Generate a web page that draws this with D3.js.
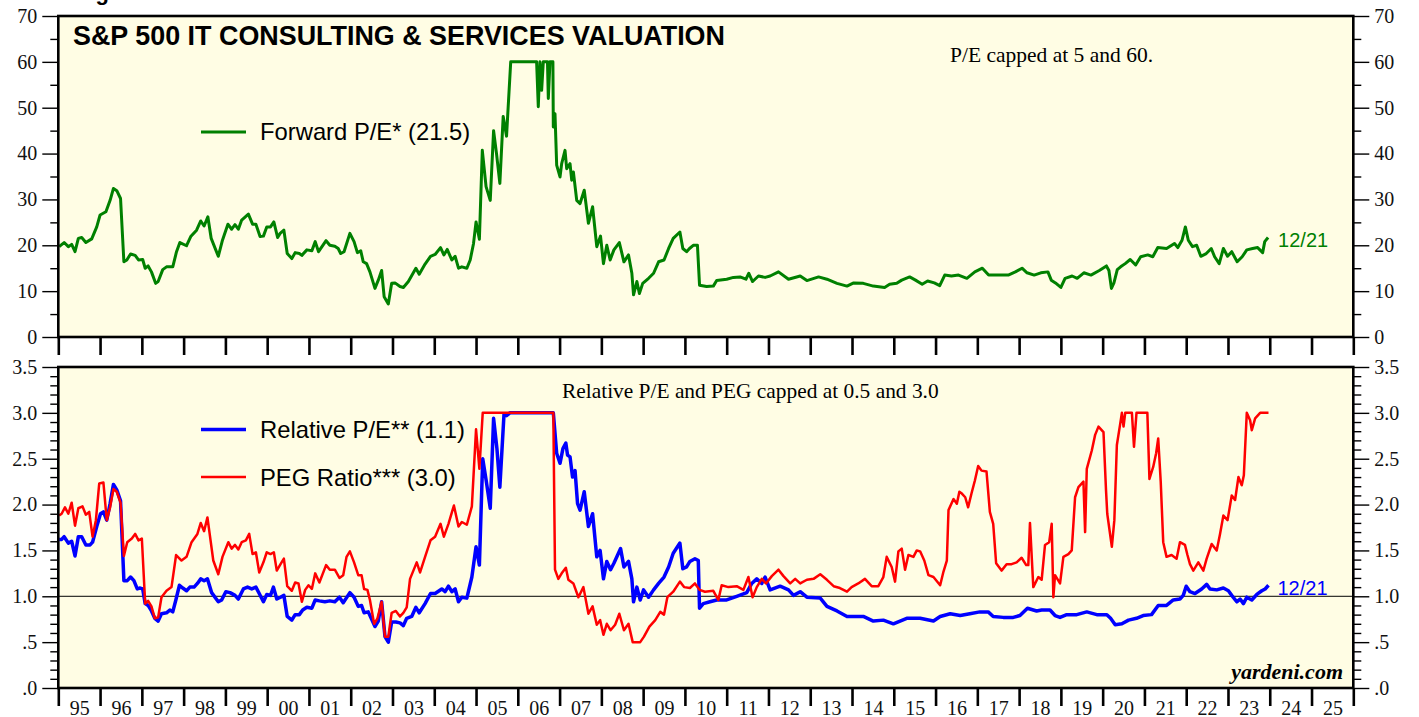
<!DOCTYPE html>
<html>
<head>
<meta charset="utf-8">
<script src="https://cdn.jsdelivr.net/npm/d3@7"></script>
<style>
  body { margin: 0; background: #fff; }
  svg { display: block; }
</style>
</head>
<body>
<svg id="chart"></svg>
<script>
// year ticks on the x axis (labels are the two last digits)
const years = d3.range(1995, 2026);

// Forward P/E  [decimal year, value]
const forwardPE = [
  [1995.02,19.7],[1995.14,20.6],[1995.24,19.7],[1995.32,20.2],[1995.40,18.6],[1995.48,21.5],[1995.56,21.7],
  [1995.66,20.6],[1995.80,21.4],[1995.92,24.0],[1996.00,26.6],[1996.14,27.3],[1996.24,29.8],[1996.32,32.4],
  [1996.40,31.9],[1996.49,30.2],[1996.57,16.4],[1996.64,16.8],[1996.73,18.1],[1996.84,17.8],[1996.92,16.8],
  [1997.02,16.9],[1997.08,15.0],[1997.15,15.5],[1997.23,14.2],[1997.33,11.7],[1997.39,12.1],[1997.50,14.7],
  [1997.59,15.3],[1997.74,15.3],[1997.83,18.6],[1997.91,20.6],[1998.07,19.9],[1998.17,21.9],[1998.31,23.3],
  [1998.41,25.3],[1998.49,24.2],[1998.58,26.2],[1998.66,21.5],[1998.83,17.6],[1998.93,21.1],[1999.06,24.6],
  [1999.15,23.5],[1999.23,24.5],[1999.31,23.5],[1999.39,25.5],[1999.55,26.8],[1999.65,24.6],[1999.73,24.6],
  [1999.83,21.9],[1999.91,22.0],[1999.99,24.0],[2000.08,24.0],[2000.16,25.1],[2000.25,21.7],[2000.31,22.6],
  [2000.40,23.3],[2000.48,18.2],[2000.59,17.1],[2000.67,18.4],[2000.77,18.2],[2000.83,17.8],[2000.95,19.0],
  [2001.07,18.8],[2001.15,20.8],[2001.23,18.6],[2001.41,21.0],[2001.50,20.0],[2001.62,19.8],[2001.70,19.3],
  [2001.76,18.2],[2001.84,18.6],[2001.98,22.6],[2002.08,20.8],[2002.16,18.4],[2002.24,18.8],[2002.30,16.4],
  [2002.38,16.0],[2002.46,14.2],[2002.58,10.6],[2002.66,12.4],[2002.74,14.5],[2002.80,8.8],[2002.90,7.2],
  [2002.98,11.7],[2003.06,11.8],[2003.18,11.0],[2003.26,10.8],[2003.38,12.1],[2003.56,15.0],[2003.64,13.7],
  [2003.78,15.9],[2003.91,17.6],[2004.02,18.0],[2004.15,19.5],[2004.23,17.9],[2004.31,19.1],[2004.42,16.8],
  [2004.50,17.6],[2004.58,15.0],[2004.66,15.3],[2004.78,15.0],[2004.86,16.8],[2004.94,20.4],[2005.00,25.1],
  [2005.08,21.3],[2005.15,40.7],[2005.24,32.8],[2005.34,29.8],[2005.42,45.0],[2005.49,40.0],[2005.57,33.5],
  [2005.65,48.1],[2005.73,43.8],[2005.83,60],[2006.45,60],[2006.49,50.2],[2006.53,60],[2006.57,53.8],
  [2006.61,60],[2006.71,60],[2006.73,52.0],[2006.77,60],[2006.84,60],[2006.85,45.8],[2006.89,48.7],
  [2006.93,37.5],[2007.01,34.9],[2007.05,37.8],[2007.13,40.7],[2007.17,36.7],[2007.25,37.8],[2007.29,34.2],
  [2007.33,36.0],[2007.41,29.8],[2007.49,29.1],[2007.59,32.0],[2007.69,24.8],[2007.79,28.4],[2007.89,19.7],
  [2007.98,22.0],[2008.05,16.0],[2008.13,20.0],[2008.21,16.8],[2008.30,19.0],[2008.43,20.6],[2008.54,16.4],
  [2008.65,17.9],[2008.73,13.9],[2008.77,9.2],[2008.85,12.1],[2008.91,9.5],[2008.99,11.7],[2009.13,12.8],
  [2009.25,13.9],[2009.37,16.4],[2009.50,16.8],[2009.61,19.3],[2009.72,21.5],[2009.88,22.9],[2009.95,19.3],
  [2010.04,18.6],[2010.11,19.3],[2010.20,20.0],[2010.30,20.0],[2010.35,11.3],[2010.52,11.0],[2010.68,11.1],
  [2010.76,12.3],[2011.00,12.6],[2011.16,13.0],[2011.32,13.1],[2011.46,12.6],[2011.53,13.9],[2011.62,12.1],
  [2011.76,13.3],[2011.92,13.0],[2012.04,13.3],[2012.24,14.2],[2012.48,12.6],[2012.76,13.3],[2012.92,12.3],
  [2013.20,13.1],[2013.40,12.6],[2013.64,11.7],[2013.88,11.1],[2014.04,11.8],[2014.27,11.7],[2014.51,11.1],
  [2014.78,10.8],[2014.90,11.5],[2015.07,11.7],[2015.19,12.4],[2015.38,13.1],[2015.52,12.4],[2015.68,11.5],
  [2015.81,12.2],[2015.97,11.8],[2016.10,11.2],[2016.22,13.5],[2016.38,13.3],[2016.55,13.5],[2016.75,12.8],
  [2016.94,14.2],[2017.12,15.0],[2017.27,13.5],[2017.49,13.5],[2017.74,13.5],[2017.91,14.2],[2018.07,15.0],
  [2018.19,14.0],[2018.36,13.5],[2018.52,14.0],[2018.69,14.2],[2018.77,12.4],[2018.87,11.8],[2019.00,10.8],
  [2019.10,12.8],[2019.27,13.3],[2019.39,12.8],[2019.55,14.0],[2019.72,13.5],[2019.92,14.5],[2020.09,15.5],
  [2020.15,14.5],[2020.21,10.6],[2020.27,11.8],[2020.35,14.7],[2020.43,15.3],[2020.54,16.0],[2020.66,16.9],
  [2020.79,15.7],[2020.91,17.5],[2021.08,17.9],[2021.20,17.5],[2021.32,19.5],[2021.53,19.3],[2021.72,20.4],
  [2021.80,19.5],[2021.90,21.1],[2021.98,24.0],[2022.05,21.1],[2022.15,19.7],[2022.25,20.0],[2022.35,17.6],
  [2022.48,18.2],[2022.60,19.3],[2022.68,17.5],[2022.79,16.0],[2022.89,19.3],[2022.99,17.6],[2023.09,18.6],
  [2023.22,16.4],[2023.34,17.5],[2023.45,19.0],[2023.59,19.3],[2023.71,19.5],[2023.83,18.4],[2023.88,20.8],
  [2023.96,21.7]
];

// Relative P/E  [decimal year, value]
const relativePE = [
  [1995.02,1.62],[1995.08,1.62],[1995.14,1.65],[1995.24,1.58],[1995.32,1.60],[1995.40,1.44],[1995.48,1.65],
  [1995.56,1.65],[1995.66,1.56],[1995.76,1.56],[1995.82,1.59],[1995.92,1.76],[1996.01,1.90],[1996.08,1.92],
  [1996.16,1.83],[1996.24,2.01],[1996.32,2.22],[1996.40,2.16],[1996.49,2.04],[1996.57,1.17],[1996.65,1.17],
  [1996.73,1.21],[1996.81,1.17],[1996.89,1.08],[1996.96,1.09],[1997.02,1.08],[1997.08,0.92],[1997.15,0.90],
  [1997.23,0.84],[1997.31,0.76],[1997.39,0.73],[1997.47,0.81],[1997.59,0.82],[1997.67,0.85],[1997.74,0.83],
  [1997.82,0.97],[1997.90,1.12],[1997.98,1.09],[1998.07,1.06],[1998.15,1.10],[1998.25,1.10],[1998.33,1.14],
  [1998.41,1.19],[1998.49,1.17],[1998.57,1.19],[1998.67,1.04],[1998.83,0.94],[1998.91,0.96],[1999.01,1.05],
  [1999.11,1.04],[1999.23,1.01],[1999.31,0.97],[1999.43,1.08],[1999.53,1.10],[1999.63,1.08],[1999.73,1.10],
  [1999.81,1.03],[1999.91,0.94],[1999.99,1.02],[2000.08,1.01],[2000.15,1.10],[2000.23,0.97],[2000.32,0.99],
  [2000.40,1.01],[2000.48,0.78],[2000.59,0.74],[2000.67,0.80],[2000.77,0.80],[2000.85,0.85],[2000.95,0.88],
  [2001.07,0.87],[2001.15,0.96],[2001.25,0.95],[2001.38,0.94],[2001.50,0.95],[2001.62,0.94],[2001.73,0.99],
  [2001.82,0.93],[2001.98,1.04],[2002.08,0.99],[2002.18,0.89],[2002.26,0.90],[2002.32,0.82],[2002.42,0.83],
  [2002.58,0.67],[2002.66,0.73],[2002.74,0.94],[2002.82,0.56],[2002.90,0.50],[2002.98,0.72],[2003.08,0.72],
  [2003.18,0.71],[2003.26,0.68],[2003.34,0.76],[2003.46,0.78],[2003.56,0.88],[2003.64,0.82],[2003.78,0.92],
  [2003.91,1.03],[2004.02,1.03],[2004.18,1.08],[2004.26,1.05],[2004.34,1.11],[2004.42,1.05],[2004.50,1.08],
  [2004.58,0.94],[2004.66,0.99],[2004.78,0.98],[2004.90,1.21],[2005.00,1.54],[2005.08,1.34],[2005.16,2.50],
  [2005.24,2.27],[2005.34,1.96],[2005.42,2.94],[2005.50,2.61],[2005.57,2.19],[2005.67,2.99],[2005.73,2.97],
  [2005.81,3.0],[2006.85,3.0],[2006.93,2.56],[2007.01,2.45],[2007.08,2.61],[2007.15,2.67],[2007.19,2.54],
  [2007.25,2.52],[2007.31,2.30],[2007.37,2.37],[2007.43,2.01],[2007.49,1.94],[2007.59,2.14],[2007.69,1.76],
  [2007.79,1.90],[2007.89,1.43],[2007.97,1.50],[2008.05,1.19],[2008.13,1.38],[2008.22,1.29],[2008.30,1.36],
  [2008.46,1.52],[2008.54,1.32],[2008.65,1.38],[2008.73,1.19],[2008.77,0.94],[2008.85,1.10],[2008.93,0.96],
  [2009.01,1.07],[2009.13,0.99],[2009.25,1.07],[2009.37,1.14],[2009.50,1.21],[2009.61,1.32],[2009.72,1.47],
  [2009.88,1.58],[2009.95,1.30],[2010.04,1.32],[2010.12,1.38],[2010.24,1.41],[2010.32,1.39],[2010.35,0.87],
  [2010.44,0.92],[2010.60,0.94],[2010.76,0.96],[2011.00,0.96],[2011.24,1.00],[2011.48,1.04],[2011.60,1.14],
  [2011.72,1.19],[2011.84,1.14],[2011.92,1.21],[2012.04,1.07],[2012.28,1.11],[2012.48,1.07],[2012.60,1.01],
  [2012.76,1.05],[2012.92,0.99],[2013.24,0.98],[2013.40,0.89],[2013.64,0.84],[2013.88,0.78],[2014.04,0.78],
  [2014.27,0.78],[2014.51,0.73],[2014.75,0.74],[2014.99,0.70],[2015.31,0.76],[2015.63,0.76],[2015.95,0.73],
  [2016.11,0.78],[2016.35,0.81],[2016.59,0.79],[2016.82,0.81],[2017.06,0.83],[2017.26,0.83],[2017.38,0.78],
  [2017.62,0.77],[2017.86,0.77],[2018.02,0.79],[2018.20,0.87],[2018.42,0.84],[2018.54,0.85],[2018.74,0.85],
  [2018.86,0.79],[2018.98,0.77],[2019.14,0.80],[2019.38,0.80],[2019.62,0.83],[2019.86,0.80],[2020.10,0.80],
  [2020.19,0.76],[2020.30,0.69],[2020.46,0.70],[2020.62,0.74],[2020.81,0.76],[2020.97,0.79],[2021.17,0.80],
  [2021.33,0.90],[2021.53,0.90],[2021.69,0.96],[2021.85,0.97],[2021.93,1.01],[2022.00,1.11],[2022.09,1.05],
  [2022.21,1.03],[2022.37,1.08],[2022.49,1.13],[2022.57,1.08],[2022.73,1.07],[2022.89,1.09],[2023.01,1.06],
  [2023.09,1.01],[2023.21,0.94],[2023.29,0.97],[2023.37,0.92],[2023.45,0.99],[2023.57,0.96],[2023.69,1.02],
  [2023.81,1.06],[2023.89,1.08],[2023.97,1.12]
];

// PEG ratio  [decimal year, value]
const pegRatio = [
  [1995.02,1.88],[1995.08,1.90],[1995.16,1.97],[1995.24,1.90],[1995.32,2.02],[1995.40,1.77],[1995.48,1.96],
  [1995.58,1.98],[1995.66,1.89],[1995.74,1.92],[1995.82,1.65],[1995.90,1.83],[1995.98,2.23],[1996.08,2.24],
  [1996.16,1.83],[1996.24,1.97],[1996.32,2.17],[1996.40,2.14],[1996.49,2.02],[1996.57,1.44],[1996.65,1.59],
  [1996.76,1.63],[1996.84,1.68],[1996.92,1.61],[1997.00,1.63],[1997.08,0.92],[1997.15,0.95],[1997.23,0.89],
  [1997.31,0.76],[1997.39,0.77],[1997.47,0.99],[1997.59,1.06],[1997.71,1.10],[1997.82,1.45],[1997.95,1.39],
  [1998.07,1.43],[1998.19,1.59],[1998.33,1.68],[1998.41,1.80],[1998.49,1.71],[1998.57,1.86],[1998.71,1.39],
  [1998.83,1.24],[1998.93,1.43],[1999.07,1.59],[1999.15,1.52],[1999.23,1.56],[1999.31,1.51],[1999.39,1.59],
  [1999.49,1.61],[1999.57,1.68],[1999.65,1.46],[1999.73,1.48],[1999.81,1.26],[1999.91,1.37],[1999.99,1.48],
  [2000.08,1.46],[2000.16,1.48],[2000.23,1.28],[2000.32,1.35],[2000.40,1.41],[2000.48,1.11],[2000.59,1.06],
  [2000.67,1.15],[2000.75,1.14],[2000.83,0.94],[2000.91,1.07],[2000.99,1.12],[2001.07,1.08],[2001.15,1.25],
  [2001.25,1.15],[2001.41,1.34],[2001.50,1.29],[2001.62,1.29],[2001.73,1.20],[2001.82,1.23],[2001.90,1.43],
  [2001.98,1.49],[2002.08,1.37],[2002.18,1.23],[2002.26,1.23],[2002.32,1.08],[2002.40,1.07],[2002.46,0.96],
  [2002.56,0.70],[2002.64,0.76],[2002.74,0.94],[2002.82,0.56],[2002.90,0.56],[2002.98,0.82],[2003.08,0.84],
  [2003.18,0.78],[2003.26,0.82],[2003.34,0.88],[2003.42,1.19],[2003.58,1.37],[2003.66,1.26],[2003.78,1.43],
  [2003.91,1.61],[2004.02,1.65],[2004.15,1.79],[2004.23,1.65],[2004.34,1.79],[2004.47,1.99],[2004.58,1.76],
  [2004.66,1.81],[2004.78,1.78],[2004.90,1.98],[2005.00,2.82],[2005.08,2.39],[2005.16,3.0],[2006.85,3.0],
  [2006.89,1.29],[2006.97,1.19],[2007.05,1.25],[2007.15,1.31],[2007.21,1.18],[2007.33,1.14],[2007.45,0.99],
  [2007.57,1.10],[2007.69,0.81],[2007.79,0.89],[2007.89,0.69],[2007.97,0.74],[2008.05,0.58],[2008.13,0.70],
  [2008.22,0.63],[2008.33,0.69],[2008.43,0.81],[2008.54,0.63],[2008.65,0.70],[2008.75,0.50],[2008.93,0.50],
  [2009.02,0.56],[2009.15,0.67],[2009.29,0.74],[2009.41,0.83],[2009.50,0.80],[2009.58,0.99],[2009.72,1.05],
  [2009.88,1.16],[2009.98,1.10],[2010.12,1.09],[2010.24,1.14],[2010.35,1.07],[2010.48,1.05],[2010.68,1.06],
  [2010.80,0.96],[2010.88,1.12],[2011.04,1.10],[2011.24,1.11],[2011.40,1.07],[2011.52,1.21],[2011.62,0.99],
  [2011.72,1.10],[2011.84,1.19],[2011.94,1.14],[2012.08,1.22],[2012.24,1.29],[2012.36,1.22],[2012.52,1.14],
  [2012.64,1.19],[2012.76,1.14],[2012.92,1.18],[2013.08,1.19],[2013.24,1.24],[2013.40,1.18],[2013.56,1.11],
  [2013.71,1.09],[2013.88,1.05],[2013.99,1.10],[2014.15,1.14],[2014.31,1.19],[2014.47,1.11],[2014.63,1.11],
  [2014.75,1.21],[2014.83,1.43],[2014.95,1.32],[2015.03,1.16],[2015.11,1.49],[2015.19,1.52],[2015.27,1.29],
  [2015.35,1.45],[2015.47,1.43],[2015.55,1.50],[2015.63,1.49],[2015.73,1.39],[2015.83,1.23],[2015.95,1.21],
  [2016.11,1.12],[2016.19,1.27],[2016.27,1.39],[2016.31,1.94],[2016.43,2.06],[2016.51,2.01],[2016.57,2.14],
  [2016.63,2.12],[2016.71,2.08],[2016.78,1.97],[2016.86,2.12],[2016.94,2.26],[2017.02,2.42],[2017.10,2.37],
  [2017.22,2.36],[2017.30,1.92],[2017.38,1.79],[2017.45,1.36],[2017.58,1.28],[2017.70,1.35],[2017.82,1.35],
  [2017.94,1.37],[2018.06,1.42],[2018.17,1.34],[2018.22,1.34],[2018.26,1.80],[2018.34,1.10],[2018.46,1.21],
  [2018.54,1.18],[2018.62,1.56],[2018.72,1.59],[2018.78,1.79],[2018.82,0.99],[2018.86,1.23],[2018.98,1.14],
  [2019.06,1.43],[2019.18,1.46],[2019.26,1.50],[2019.34,2.08],[2019.42,2.19],[2019.54,2.25],[2019.58,1.70],
  [2019.62,2.39],[2019.74,2.59],[2019.82,2.76],[2019.90,2.85],[2020.02,2.79],[2020.08,2.16],[2020.11,1.90],
  [2020.22,1.54],[2020.28,1.83],[2020.34,2.65],[2020.42,2.88],[2020.46,3.0],[2020.50,2.85],[2020.54,3.0],
  [2020.70,3.0],[2020.75,2.63],[2020.81,3.0],[2021.07,3.0],[2021.12,2.28],[2021.21,2.41],[2021.28,2.56],
  [2021.33,2.72],[2021.39,2.25],[2021.45,1.59],[2021.53,1.43],[2021.65,1.45],[2021.77,1.41],[2021.85,1.59],
  [2021.97,1.56],[2022.03,1.45],[2022.09,1.35],[2022.17,1.28],[2022.29,1.37],[2022.41,1.28],[2022.49,1.41],
  [2022.61,1.57],[2022.73,1.50],[2022.81,1.68],[2022.89,1.88],[2022.99,1.83],[2023.09,2.10],[2023.17,2.05],
  [2023.25,2.30],[2023.33,2.21],[2023.38,2.32],[2023.45,3.0],[2023.53,2.92],[2023.57,2.81],[2023.65,2.94],
  [2023.77,3.0],[2023.97,3.0]
];

const topTicks = d3.range(0, 71, 10);
const topMinor = d3.range(5, 70, 10);
const botTicks = d3.range(0, 3.51, 0.5);
const botMinor = d3.range(1, 35).filter(d => d % 5 != 0).map(d => d / 10);

// tamaño y posiciones generales
const W = 1419, H = 717;
const left = 58.3, right = 1353.3;
const serif = "'Liberation Serif','Times New Roman',serif";
const sans = "'Liberation Sans',Arial,sans-serif";
const bg = "#fffde4";

const svg = d3.select("#chart").attr("width", W).attr("height", H);

const x = d3.scaleLinear().domain([1995, 2026]).range([left, right]);
const y1 = d3.scaleLinear().domain([0, 70]).range([337, 16]);
const y2 = d3.scaleLinear().domain([0, 3.5]).range([688, 367]);

// etiqueta cortada arriba
svg.append("text").attr("x", 76).attr("y", -0.5)
  .attr("font-family", sans).attr("font-weight", "bold").attr("font-size", 22)
  .text("Figure 6.");

function panel(y, majors, minors, fmt) {
  let [bottom, top] = y.range();
  let g = svg.append("g");

  g.append("rect")
    .attr("x", left).attr("y", top)
    .attr("width", right - left).attr("height", bottom - top)
    .attr("fill", bg);

  // ejes y, izquierda y derecha
  g.append("g").attr("transform", `translate(${left},0)`)
    .call(d3.axisLeft(y).tickValues(majors).tickSize(16).tickPadding(5).tickFormat(fmt));
  g.append("g").attr("transform", `translate(${left},0)`)
    .call(d3.axisLeft(y).tickValues(minors).tickSize(8).tickFormat(""));
  g.append("g").attr("transform", `translate(${right},0)`)
    .call(d3.axisRight(y).tickValues(majors).tickSize(16).tickPadding(5).tickFormat(fmt));
  g.append("g").attr("transform", `translate(${right},0)`)
    .call(d3.axisRight(y).tickValues(minors).tickSize(8).tickFormat(""));

  // marcas de los años
  g.append("g").attr("class", "xt").attr("transform", `translate(0,${bottom})`)
    .call(d3.axisBottom(x).tickValues(d3.range(1995, 2027)).tickSize(18).tickFormat(""));

  g.selectAll(".domain").remove();
  g.selectAll(".tick line").attr("stroke", "#000").attr("stroke-width", 1.4);
  g.selectAll(".xt .tick line").attr("stroke-width", 2.6);
  g.selectAll(".tick text").attr("font-family", serif).attr("font-size", 20).attr("fill", "#111");
  return g;
}

function frame(g, y) {
  let [bottom, top] = y.range();
  g.append("rect")
    .attr("x", left).attr("y", top)
    .attr("width", right - left).attr("height", bottom - top)
    .attr("fill", "none").attr("stroke", "#000").attr("stroke-width", 2.6);
}

const line = (y) => d3.line().x(d => x(d[0])).y(d => y(d[1]));

// ---- panel superior
let g1 = panel(y1, topTicks, topMinor, d3.format("d"));
g1.append("path").datum(forwardPE)
  .attr("d", line(y1)).attr("fill", "none")
  .attr("stroke", "#008000").attr("stroke-width", 3).attr("stroke-linejoin", "round");
frame(g1, y1);

g1.append("text").attr("x", 73).attr("y", 45)
  .attr("font-family", sans).attr("font-weight", "bold").attr("font-size", 26.9)
  .text("S&P 500 IT CONSULTING & SERVICES VALUATION");
g1.append("text").attr("x", 950).attr("y", 62)
  .attr("font-family", serif).attr("font-size", 21.5)
  .text("P/E capped at 5 and 60.");
g1.append("line").attr("x1", 201).attr("x2", 246).attr("y1", 132).attr("y2", 132)
  .attr("stroke", "#008000").attr("stroke-width", 3);
g1.append("text").attr("x", 260).attr("y", 139.5)
  .attr("font-family", sans).attr("font-size", 23.8)
  .text("Forward P/E* (21.5)");
g1.append("text").attr("x", x(forwardPE[forwardPE.length - 1][0]) + 10).attr("y", 247)
  .attr("font-family", sans).attr("font-size", 20).attr("fill", "#008000")
  .text("12/21");

// ---- panel inferior
const fmt2 = v => v < 1 ? "." + Math.round(v * 10) : v.toFixed(1);
let g2 = panel(y2, botTicks, botMinor, fmt2);

g2.append("line").attr("x1", left).attr("x2", right)
  .attr("y1", y2(1)).attr("y2", y2(1))
  .attr("stroke", "#000").attr("stroke-width", 1);

g2.append("path").datum(relativePE)
  .attr("d", line(y2)).attr("fill", "none")
  .attr("stroke", "#0000ff").attr("stroke-width", 3.5).attr("stroke-linejoin", "round");
g2.append("path").datum(pegRatio)
  .attr("d", line(y2)).attr("fill", "none")
  .attr("stroke", "#ff0000").attr("stroke-width", 2.5).attr("stroke-linejoin", "round");
frame(g2, y2);

// etiquetas de los años
let xl = svg.append("g").attr("transform", `translate(0,${y2.range()[0]})`)
  .call(d3.axisBottom(x).tickValues(years.map(d => d + 0.5)).tickSize(0).tickPadding(13)
    .tickFormat(d => d3.format("02")(Math.floor(d) % 100)));
xl.select(".domain").remove();
xl.selectAll("text").attr("font-family", serif).attr("font-size", 20).attr("fill", "#111");

g2.append("text").attr("x", 562).attr("y", 398)
  .attr("font-family", serif).attr("font-size", 21.4)
  .text("Relative P/E and PEG capped at 0.5 and 3.0");
g2.append("line").attr("x1", 201).attr("x2", 246).attr("y1", 429.5).attr("y2", 429.5)
  .attr("stroke", "#0000ff").attr("stroke-width", 3.5);
g2.append("text").attr("x", 260).attr("y", 438)
  .attr("font-family", sans).attr("font-size", 23.8)
  .text("Relative P/E** (1.1)");
g2.append("line").attr("x1", 201).attr("x2", 246).attr("y1", 477).attr("y2", 477)
  .attr("stroke", "#ff0000").attr("stroke-width", 2.5);
g2.append("text").attr("x", 260).attr("y", 485.5)
  .attr("font-family", sans).attr("font-size", 23.8)
  .text("PEG Ratio*** (3.0)");
g2.append("text").attr("x", x(relativePE[relativePE.length - 1][0]) + 9).attr("y", 595)
  .attr("font-family", sans).attr("font-size", 20).attr("fill", "#0000ff")
  .text("12/21");
g2.append("text").attr("x", 1343).attr("y", 679).attr("text-anchor", "end")
  .attr("font-family", serif).attr("font-weight", "bold").attr("font-style", "italic").attr("font-size", 22)
  .text("yardeni.com");
</script>
</body>
</html>
